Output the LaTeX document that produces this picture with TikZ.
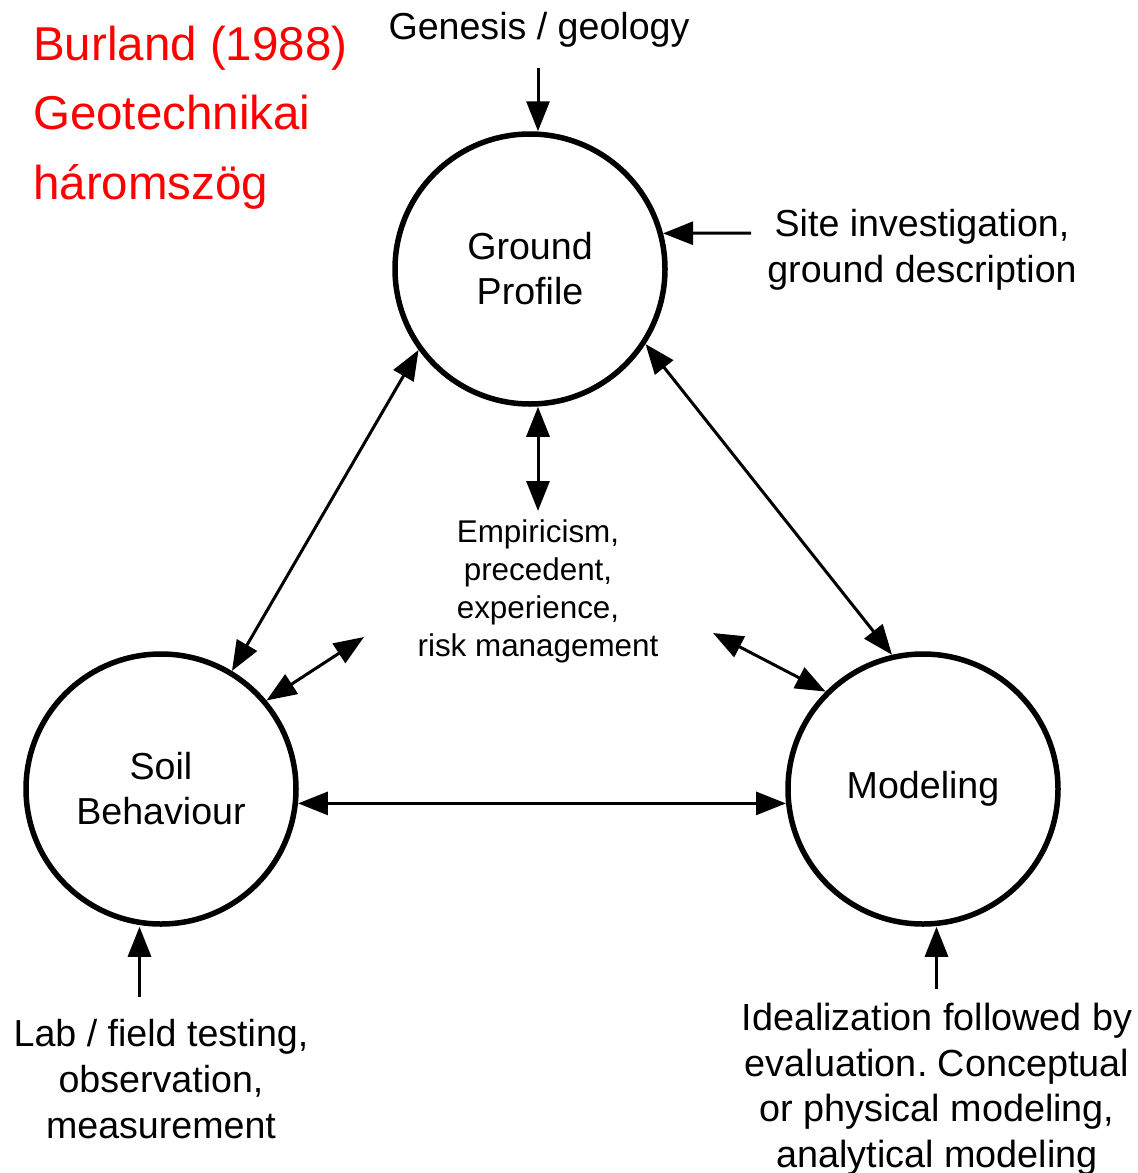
\documentclass[tikz,border=0pt]{standalone}
\usepackage{fontspec}
\setmainfont{Liberation Sans}
\usetikzlibrary{arrows.meta}
\frenchspacing
\begin{document}
\begin{tikzpicture}[x=1pt,y=-1pt,
  circ/.style={circle, draw, line width=5.5pt, minimum size=270pt, inner sep=0pt, align=center, font=\fontsize{37.6}{45}\selectfont},
  lbl/.style={align=center, inner sep=0pt, font=\fontsize{37.6}{46}\selectfont},
  arr/.style={-{Triangle[length=30pt,width=23pt]}, line width=3pt},
  darr/.style={{Triangle[length=30pt,width=23pt]}-{Triangle[length=30pt,width=23pt]}, line width=3pt}]
\useasboundingbox (0,0) rectangle (1138,1173);
\node[circ] (GP) at (530,269) {Ground\\Profile};
\node[circ] (SB) at (161,789) {Soil\\Behaviour};
\node[circ] (MO) at (923,789) {Modeling};
\node[lbl, anchor=base] (gen) at (539,39) {Genesis / geology};
\node[lbl] (site) at (922,250) {Site investigation,\\ground description};
\node[lbl, font=\fontsize{31.4}{38}\selectfont] (emp) at (538,591) {Empiricism,\\precedent,\\experience,\\risk management};
\node[lbl] (lab) at (161,1079) {Lab / field testing,\\observation,\\measurement};
\node[lbl, font=\fontsize{37.8}{45.5}\selectfont] (ideal) at (937,1089) {Idealization followed by\\evaluation.\ Conceptual\\or physical modeling,\\analytical modeling};
\node[lbl, align=left, anchor=west, text=red, font=\fontsize{47.5}{69.3}\selectfont] (title) at (33,117.7) {Burland (1988)\\Geotechnikai\\háromszög};
\coordinate (g1) at (538,68);
\coordinate (s1) at (751,233);
\coordinate (c1) at (538,511);
\coordinate (c2) at (364,637);
\coordinate (c3) at (713,633);
\coordinate (l1) at (139.5,997);
\coordinate (i1) at (936.5,989);
\draw[arr] (g1) -- (g1 |- GP.north);
\draw[arr] (s1) -- (GP.15);
\draw[darr] (GP.216) -- (SB.59);
\draw[darr] (GP.327) -- (MO.103);
\draw[darr] (c1 |- GP.south) -- (c1);
\draw[darr] (SB.40) -- (c2);
\draw[darr] (MO.135) -- (c3);
\draw[darr] (SB.354) -- (MO.186);
\draw[arr] (l1) -- (l1 |- SB.south);
\draw[arr] (i1) -- (i1 |- MO.south);
\end{tikzpicture}
\end{document}
